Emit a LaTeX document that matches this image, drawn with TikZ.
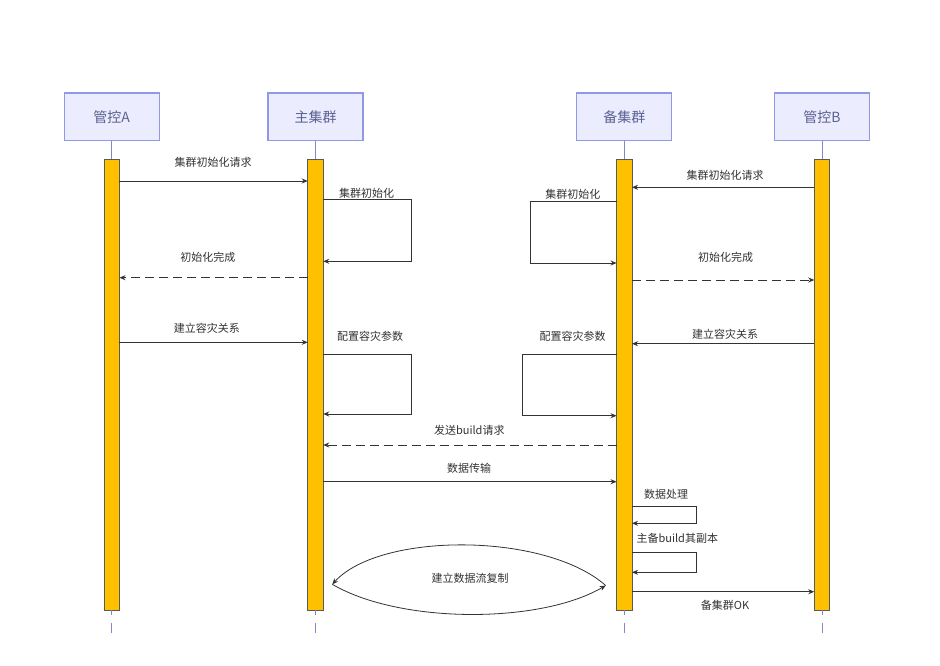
\documentclass[tikz,border=0pt]{standalone}
\usepackage{fontspec}
\setmainfont{Noto Sans CJK SC}
\usetikzlibrary{arrows.meta}
\definecolor{actfill}{HTML}{ECECFF}
\definecolor{actdraw}{HTML}{9297E8}
\definecolor{acttext}{HTML}{5B6190}
\definecolor{lifecol}{HTML}{8088C8}
\definecolor{barfill}{HTML}{FFC000}
\definecolor{bardraw}{HTML}{5A5A5A}
\definecolor{msgcol}{HTML}{333333}
\begin{document}
\begin{tikzpicture}[x=1pt,y=-1pt,
    actor/.style={draw=actdraw, fill=actfill, line width=1.2pt, minimum width=95pt, minimum height=47.5pt,
        inner sep=0pt, outer sep=0pt, font=\fontsize{14}{16}\selectfont, text=acttext},
    bar/.style={draw=bardraw, fill=barfill, line width=0.8pt, minimum width=15.5pt, minimum height=451pt,
        inner sep=0pt, outer sep=0pt, anchor=north},
    msg/.style={draw=msgcol, line width=0.8pt, -{Stealth[length=6pt,width=5pt]}},
    ret/.style={msg, dash pattern=on 9pt off 5pt},
    lbl/.style={font=\fontsize{11}{13}\selectfont, text=msgcol, inner sep=0pt},
    life/.style={draw=lifecol, line width=1pt},
    tail/.style={life, dash pattern=on 5pt off 8pt on 10pt}]
    \fill[white] (0,0) rectangle (940,665);
    % actors and their bars
    \node[actor] (ctlA) at (111.7,116.8) {管控A};
    \node[actor] (main) at (315.5,116.8) {主集群};
    \node[actor] (bak) at (624.3,116.8) {备集群};
    \node[actor] (ctlB) at (822,116.8) {管控B};
    \node[bar] (barA) at (111.7,159) {};
    \node[bar] (barM) at (315.5,159) {};
    \node[bar] (barK) at (624.3,159) {};
    \node[bar] (barB) at (822,159) {};
    \draw[life] (ctlA) -- (barA);
    \draw[life] (main) -- (barM);
    \draw[life] (bak) -- (barK);
    \draw[life] (ctlB) -- (barB);
    \draw[tail] (barA.south) -- ++(0,23);
    \draw[tail] (barM.south) -- ++(0,23);
    \draw[tail] (barK.south) -- ++(0,23);
    \draw[tail] (barB.south) -- ++(0,23);
    % init
    \draw[msg] (barA.east |- 0,181) -- (barM.west |- 0,181);
    \node[lbl] (initReqA) at (213,162) {集群初始化请求};
    \draw[msg] (barM.east |- 0,199.3) -- (411,199.3) |- (barM.east |- 0,261.3);
    \node[lbl] (initM) at (366.7,193.5) {集群初始化};
    \draw[ret] (barM.west |- 0,277.7) -- (barA.east |- 0,277.7);
    \node[lbl] (initDoneA) at (207.8,257.3) {初始化完成};
    \draw[msg] (barB.west |- 0,187.3) -- (barK.east |- 0,187.3);
    \node[lbl] (initReqB) at (725,175) {集群初始化请求};
    \draw[msg] (barK.west |- 0,201.3) -- (530.3,201.3) |- (barK.west |- 0,263);
    \node[lbl] (initK) at (572.8,194) {集群初始化};
    \draw[ret] (barK.east |- 0,280) -- (barB.west |- 0,280);
    \node[lbl] (initDoneB) at (725.5,257.3) {初始化完成};
    % disaster recovery
    \draw[msg] (barA.east |- 0,342.3) -- (barM.west |- 0,342.3);
    \node[lbl] (drA) at (206.8,328.3) {建立容灾关系};
    \draw[msg] (barM.east |- 0,354.3) -- (411,354.3) |- (barM.east |- 0,414);
    \node[lbl] (cfgM) at (370.2,336.7) {配置容灾参数};
    \draw[msg] (barB.west |- 0,343.7) -- (barK.east |- 0,343.7);
    \node[lbl] (drB) at (725,334) {建立容灾关系};
    \draw[msg] (barK.west |- 0,354.3) -- (522.7,354.3) |- (barK.west |- 0,415.7);
    \node[lbl] (cfgK) at (572.5,336.7) {配置容灾参数};
    % build
    \draw[ret] (barK.west |- 0,445) -- (barM.east |- 0,445);
    \node[lbl] (buildReq) at (469.3,430.7) {发送build请求};
    \draw[msg] (barM.east |- 0,481.7) -- (barK.west |- 0,481.7);
    \node[lbl] (xfer) at (469,468.3) {数据传输};
    \draw[msg] (barK.east |- 0,506.7) -- (696,506.7) |- (barK.east |- 0,523.3);
    \node[lbl] (proc) at (666,494) {数据处理};
    \draw[msg] (barK.east |- 0,552.3) -- (696,552.3) |- (barK.east |- 0,572.3);
    \node[lbl] (replica) at (677.3,538.3) {主备build其副本};
    \draw[msg] (barK.east |- 0,591.7) -- (barB.west |- 0,591.7);
    \node[lbl] (okB) at (725,605) {备集群OK};
    % stream replication
    \coordinate (repL) at (332.3,584.3);
    \coordinate (repR) at (605.7,585.5);
    \draw[msg] (repR) .. controls (545,532) and (380,532) .. (repL);
    \draw[msg] (repL) .. controls (400,624) and (540,624) .. (repR);
    \node[lbl] (stream) at (470,578.3) {建立数据流复制};
\end{tikzpicture}
\end{document}
